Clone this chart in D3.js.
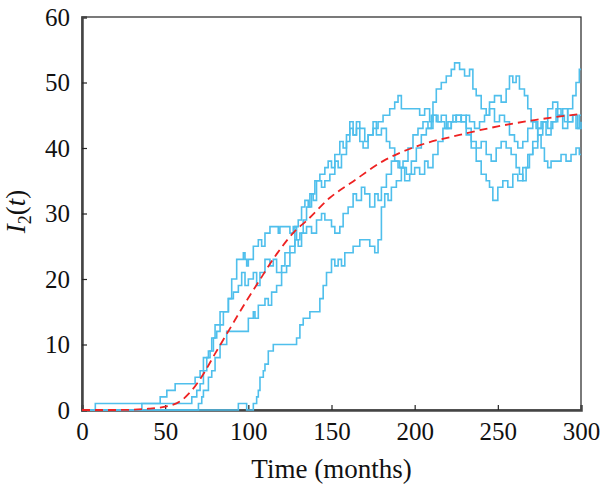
<!DOCTYPE html>
<html>
<head>
<meta charset="utf-8">
<script src="https://d3js.org/d3.v7.min.js"></script>
<style>
  body { margin: 0; background: #fff; }
  svg text { font-family: "Liberation Serif", "DejaVu Serif", serif !important; }
</style>
</head>
<body>
<svg width="600" height="491"></svg>
<script>
// tick labels
const xTicks = [0, 50, 100, 150, 200, 250, 300];
const yTicks = [0, 10, 20, 30, 40, 50, 60];

// stochastic realisations of I2(t): [month, count] at each jump
const run1 = [[0,0],[8,1],[47,2],[51,3],[56,4],[68,5],[71,6],[73,8],[76,9],[78,11],[80,13],[83,15],[88,17],[90,20],[93,23],[97,24],[98,23],[99,22],[100,23],[103,25],[106,26],[108,25],[110,27],[113,28],[118,27],[119,28],[125,27],[127,28],[129,26],[131,27],[133,29],[135,31],[137,33],[139,32],[141,35],[143,36],[146,37],[148,38],[150,37],[152,39],[155,41],[157,40],[159,42],[161,44],[163,42],[165,43],[167,41],[169,40],[172,42],[175,43],[178,44],[181,45],[185,46],[188,47],[190,48],[192,46],[197,46],[203,45],[206,46],[209,44],[211,47],[213,49],[216,50],[219,51],[222,52],[224,53],[227,52],[230,51],[233,52],[235,49],[237,48],[240,46],[243,45],[245,47],[248,48],[252,47],[255,49],[257,51],[259,50],[261,51],[263,49],[266,48],[268,46],[270,44],[273,43],[276,44],[279,42],[282,44],[285,46],[288,45],[290,44],[292,46],[295,48],[297,50],[299,52],[300,52]];
const run2 = [[0,0],[70,1],[72,2],[73,3],[76,5],[78,6],[80,8],[83,10],[87,12],[100,14],[103,15],[104,14],[106,16],[110,17],[112,16],[114,18],[117,19],[120,21],[123,22],[125,24],[128,26],[130,25],[132,27],[135,28],[138,27],[141,29],[144,30],[146,29],[150,28],[152,27],[155,28],[157,30],[160,31],[163,33],[165,32],[168,34],[170,33],[173,31],[176,33],[178,32],[180,34],[183,36],[186,38],[190,37],[193,38],[196,40],[199,42],[202,43],[205,44],[208,43],[211,45],[214,44],[218,43],[222,44],[225,45],[228,44],[231,42],[234,40],[237,38],[240,36],[243,35],[245,34],[247,32],[250,34],[253,35],[256,34],[259,36],[262,35],[265,37],[268,39],[271,41],[274,43],[277,44],[280,43],[283,44],[286,45],[289,43],[292,44],[295,45],[298,43],[300,44]];
const run3 = [[0,0],[36,1],[66,2],[69,3],[71,4],[73,6],[75,8],[77,9],[79,11],[81,12],[83,13],[85,15],[88,17],[91,18],[94,19],[96,21],[98,19],[100,20],[103,21],[105,19],[107,21],[110,23],[113,22],[115,23],[117,21],[120,22],[122,24],[125,25],[128,28],[130,29],[132,31],[134,32],[136,31],[138,33],[140,35],[144,34],[146,35],[149,36],[152,38],[154,37],[156,39],[159,41],[161,43],[163,42],[165,44],[167,43],[170,41],[172,42],[175,44],[177,42],[180,43],[183,41],[185,40],[188,38],[191,37],[194,35],[197,36],[200,37],[203,36],[206,38],[208,37],[211,39],[214,41],[217,43],[220,44],[223,45],[225,44],[228,45],[231,43],[234,41],[237,40],[240,41],[243,39],[246,38],[249,40],[252,41],[255,40],[258,39],[261,37],[263,36],[265,35],[267,37],[269,39],[271,40],[274,42],[277,44],[280,46],[283,47],[286,45],[289,46],[292,44],[295,45],[297,43],[299,45],[300,45]];
const run4 = [[0,0],[94,1],[99,0],[103,1],[105,2],[106,3],[107,5],[109,6],[110,7],[112,9],[115,10],[129,11],[131,13],[133,14],[137,15],[143,17],[145,19],[147,21],[150,23],[152,22],[154,23],[156,22],[158,24],[163,25],[167,26],[173,25],[176,24],[178,26],[180,31],[182,33],[184,32],[186,34],[189,35],[192,37],[195,36],[198,38],[201,40],[204,42],[207,43],[210,45],[213,44],[216,45],[219,43],[222,44],[225,45],[228,44],[231,45],[233,44],[236,43],[239,44],[242,45],[245,46],[248,44],[251,45],[254,44],[257,42],[260,41],[262,40],[265,41],[268,43],[271,44],[274,42],[276,40],[278,38],[280,37],[282,38],[288,39],[291,38],[294,39],[297,40],[299,39],[300,39]];
const runs = [run1, run2, run3, run4];

// deterministic solution
const meanCurve = [[0,0],[20,0],[30,0.05],[40,0.2],[50,0.5],[60,1.5],[66,3],[73,5.5],[80,8.6],[87,11.6],[99,16.7],[106,19.5],[117,23.8],[128,27.3],[135,28.9],[149,32.4],[163,34.9],[181,38],[204,40.5],[227,42],[250,43.3],[273,44.3],[300,45.2]];

const margin = { top: 17, right: 19, bottom: 81, left: 82 };
const width = 600 - margin.left - margin.right;
const height = 491 - margin.top - margin.bottom;

const svg = d3.select("svg")
  .append("g")
  .attr("transform", `translate(${margin.left}, ${margin.top})`);

const x = d3.scaleLinear().domain([0, 300]).range([0, width]);
const y = d3.scaleLinear().domain([0, 60]).range([height, 0]);

// frame
svg.append("rect")
  .attr("width", width)
  .attr("height", height)
  .attr("fill", "none")
  .attr("stroke", "#222")
  .attr("stroke-width", 1.2);

// axes, ticks pointing inward
const xAxis = svg.append("g")
  .attr("transform", `translate(0, ${height})`)
  .call(d3.axisBottom(x).tickValues(xTicks).tickSize(-5).tickPadding(12));
const yAxis = svg.append("g")
  .call(d3.axisLeft(y).tickValues(yTicks).tickSize(-5).tickPadding(12));

[xAxis, yAxis].forEach(a => {
  a.attr("font-family", null).attr("font-size", null);
  a.select(".domain").attr("stroke", "#444").attr("stroke-width", 2.5);
  a.selectAll(".tick line").attr("stroke", "#222").attr("stroke-width", 1.2);
  a.selectAll(".tick text").attr("fill", "#111").style("font-size", "25px");
});
xAxis.selectAll(".tick line").filter(d => d === 0 || d === 300).remove();
yAxis.selectAll(".tick line").filter(d => d === 0 || d === 60).remove();

const line = d3.line()
  .x(d => x(d[0]))
  .y(d => y(d[1]))
  .curve(d3.curveStepAfter);

svg.selectAll(".run")
  .data(runs)
  .enter()
  .append("path")
  .attr("class", "run")
  .attr("d", line)
  .attr("fill", "none")
  .attr("stroke", "#4fbfec")
  .attr("stroke-width", 1.6);

svg.append("path")
  .datum(meanCurve)
  .attr("d", d3.line().x(d => x(d[0])).y(d => y(d[1])).curve(d3.curveMonotoneX))
  .attr("fill", "none")
  .attr("stroke", "#ee2222")
  .attr("stroke-width", 1.8)
  .attr("stroke-dasharray", "8,5");

svg.append("text")
  .attr("x", width / 2)
  .attr("y", height + 68)
  .attr("text-anchor", "middle")
  .style("font-size", "27px")
  .attr("fill", "#111")
  .text("Time (months)");

const yl = svg.append("text")
  .attr("transform", `translate(-57, ${height / 2 - 2}) rotate(-90)`)
  .attr("text-anchor", "middle")
  .style("font-size", "27px")
  .attr("fill", "#111");
yl.append("tspan").style("font-style", "italic").text("I");
yl.append("tspan").attr("dy", 6).style("font-size", "18px").text("2");
yl.append("tspan").attr("dy", -6).text("(");
yl.append("tspan").style("font-style", "italic").text("t");
yl.append("tspan").text(")");
</script>
</body>
</html>
